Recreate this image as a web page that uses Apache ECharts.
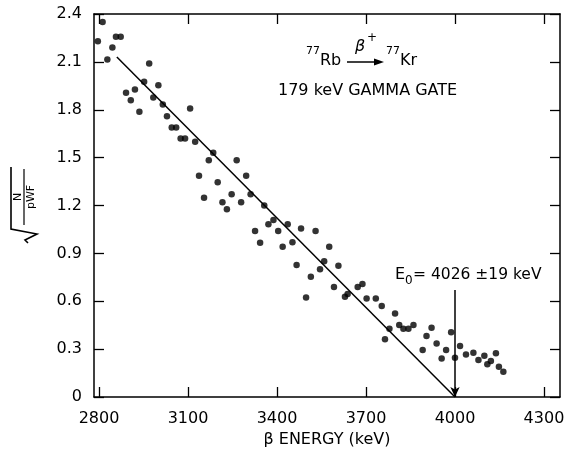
<!DOCTYPE html>
<html><head><meta charset="utf-8">
<script src="https://cdn.jsdelivr.net/npm/echarts@6/dist/echarts.min.js"></script>
<style>html,body{margin:0;padding:0;background:#fff}#c{width:568px;height:455px}</style>
</head><body><div id="c"></div>
<script>
// ---- data ----
const energy = [2796,2812,2828,2845,2857,2873,2891,2907,2921,2936,2952,2969,2983,3000,3015,3029,3045,3060,3075,3090,
  3107,3124,3137,3154,3170,3185,3200,3216,3231,3247,3264,3279,3296,3311,3326,3343,3357,3371,3388,3404,
  3419,3436,3452,3466,3481,3498,3514,3530,3545,3559,3576,3592,3607,3629,3638,3672,3688,3702,3733,3753,
  3764,3779,3798,3812,3826,3843,3860,3891,3904,3921,3938,3955,3970,3987,4000,4017,4037,4062,4079,4099,
  4109,4121,4138,4148,4163];
const kurie = [2.23,2.35,2.115,2.19,2.257,2.257,1.906,1.86,1.927,1.787,1.975,2.09,1.877,1.954,1.833,1.76,1.689,1.689,1.62,1.62,
  1.808,1.60,1.386,1.248,1.484,1.53,1.345,1.221,1.177,1.271,1.484,1.221,1.386,1.271,1.04,0.966,1.20,1.083,1.109,1.04,
  0.941,1.083,0.969,0.827,1.056,0.624,0.753,1.04,0.80,0.85,0.941,0.69,0.822,0.628,0.645,0.69,0.708,0.618,0.618,0.57,
  0.362,0.428,0.524,0.451,0.428,0.428,0.451,0.294,0.382,0.434,0.336,0.242,0.294,0.405,0.246,0.319,0.267,0.277,0.232,0.259,
  0.205,0.225,0.274,0.19,0.158];
const fitEnergy = [2860, 4000];
const fitValue = [2.13, 0];
const endpointEnergy = 4000;
const arrowFrom = 0.67;
const xTicks = [2800, 3100, 3400, 3700, 4000, 4300];
const yTicks = [0, 0.3, 0.6, 0.9, 1.2, 1.5, 1.8, 2.1, 2.4];

const FONT = 'DejaVu Sans';
const chart = echarts.init(document.getElementById('c'), null, {renderer: 'canvas'});
const pts = energy.map((e, i) => [e, kurie[i]]);
const fit = fitEnergy.map((e, i) => [e, fitValue[i]]);
const lineStyle = {color: '#000', width: 1.5};
const tick = {show: true, inside: true, length: 10, lineStyle: {color: '#000', width: 1.3}};

chart.setOption({
  animation: false,
  backgroundColor: '#fff',
  grid: {left: 94, right: 8, top: 14, bottom: 58, containLabel: false},
  xAxis: [{
    type: 'value', position: 'bottom', min: 2783, max: 4354,
    axisLine: {show: true, onZero: false, lineStyle},
    axisTick: Object.assign({customValues: xTicks}, tick),
    axisLabel: {customValues: xTicks, color: '#000', fontFamily: FONT, fontSize: 16, margin: 14,
      formatter: v => String(Math.round(v))},
    splitLine: {show: false},
    name: 'β ENERGY (keV)', nameLocation: 'middle', nameGap: 23,
    nameTextStyle: {color: '#000', fontFamily: FONT, fontSize: 16}
  }, {
    type: 'value', position: 'top', min: 2783, max: 4354,
    axisLine: {show: true, onZero: false, lineStyle},
    axisTick: Object.assign({customValues: xTicks}, tick),
    axisLabel: {show: false}, splitLine: {show: false}
  }],
  yAxis: [{
    type: 'value', position: 'left', min: 0, max: 2.4, interval: 0.3,
    axisLine: {show: true, onZero: false, lineStyle},
    axisTick: tick,
    axisLabel: {color: '#000', fontFamily: FONT, fontSize: 16, margin: 12,
      formatter: v => v === 0 ? '0' : v.toFixed(1)},
    splitLine: {show: false}
  }, {
    type: 'value', position: 'right', min: 0, max: 2.4, interval: 0.3,
    axisLine: {show: true, onZero: false, lineStyle},
    axisTick: tick, axisLabel: {show: false}, splitLine: {show: false}
  }],
  series: [{
    type: 'scatter', data: pts, symbol: 'circle', symbolSize: 6.5,
    itemStyle: {color: '#000'}, z: 3
  }, {
    type: 'line', data: fit, showSymbol: false, symbol: 'none',
    lineStyle: {color: '#000', width: 1.5},
    markLine: {
      silent: true, symbol: ['none', 'arrow'], symbolSize: [7, 10],
      label: {show: false},
      lineStyle: {color: '#000', width: 1.5, type: 'solid'},
      data: [[{coord: [endpointEnergy, arrowFrom]}, {coord: [endpointEnergy, 0]}]]
    }
  }],
  graphic: [
    // y axis title: sqrt(N / pWF), rotated
    {type: 'group', x: 24, y: 203, rotation: Math.PI / 2, children: [
      {type: 'polyline', shape: {points: [[-40, 4], [-37, 1], [-31, 13], [-26, -13], [36, -13]]},
        style: {stroke: '#000', lineWidth: 1.6, fill: null}},
      {type: 'line', shape: {x1: -22, y1: 0, x2: 34, y2: 0}, style: {stroke: '#000', lineWidth: 1.2}},
      {type: 'text', x: 6, y: -6, style: {text: 'N', font: '11px ' + FONT, fill: '#000', align: 'center', verticalAlign: 'middle'}},
      {type: 'text', x: 6, y: 7, style: {text: 'pWF', font: '11px ' + FONT, fill: '#000', align: 'center', verticalAlign: 'middle'}}
    ]},
    // reaction label
    {type: 'text', x: 306, y: 51, style: {text: '77', font: '11px ' + FONT, fill: '#000', align: 'left', verticalAlign: 'middle'}},
    {type: 'text', x: 320, y: 61, style: {text: 'Rb', font: '16px ' + FONT, fill: '#000', align: 'left', verticalAlign: 'middle'}},
    {type: 'line', shape: {x1: 347, y1: 62, x2: 376, y2: 62}, style: {stroke: '#000', lineWidth: 1.5}},
    {type: 'polygon', shape: {points: [[384, 62], [374, 58.5], [374, 65.5]]}, style: {fill: '#000'}},
    {type: 'text', x: 355, y: 47, style: {text: 'β', font: 'italic 16px ' + FONT, fill: '#000', align: 'left', verticalAlign: 'middle'}},
    {type: 'text', x: 367, y: 38, style: {text: '+', font: '12px ' + FONT, fill: '#000', align: 'left', verticalAlign: 'middle'}},
    {type: 'text', x: 386, y: 51, style: {text: '77', font: '11px ' + FONT, fill: '#000', align: 'left', verticalAlign: 'middle'}},
    {type: 'text', x: 400, y: 61, style: {text: 'Kr', font: '16px ' + FONT, fill: '#000', align: 'left', verticalAlign: 'middle'}},
    {type: 'text', x: 278, y: 91, style: {text: '179 keV GAMMA GATE', font: '16px ' + FONT, fill: '#000', align: 'left', verticalAlign: 'middle'}},
    // endpoint label
    {type: 'text', x: 395, y: 275, style: {text: 'E', font: '16px ' + FONT, fill: '#000', align: 'left', verticalAlign: 'middle'}},
    {type: 'text', x: 405, y: 281, style: {text: '0', font: '12px ' + FONT, fill: '#000', align: 'left', verticalAlign: 'middle'}},
    {type: 'text', x: 413, y: 275, style: {text: '= 4026 ±19 keV', font: '15.5px ' + FONT, fill: '#000', align: 'left', verticalAlign: 'middle'}}
  ]
});
</script></body></html>
